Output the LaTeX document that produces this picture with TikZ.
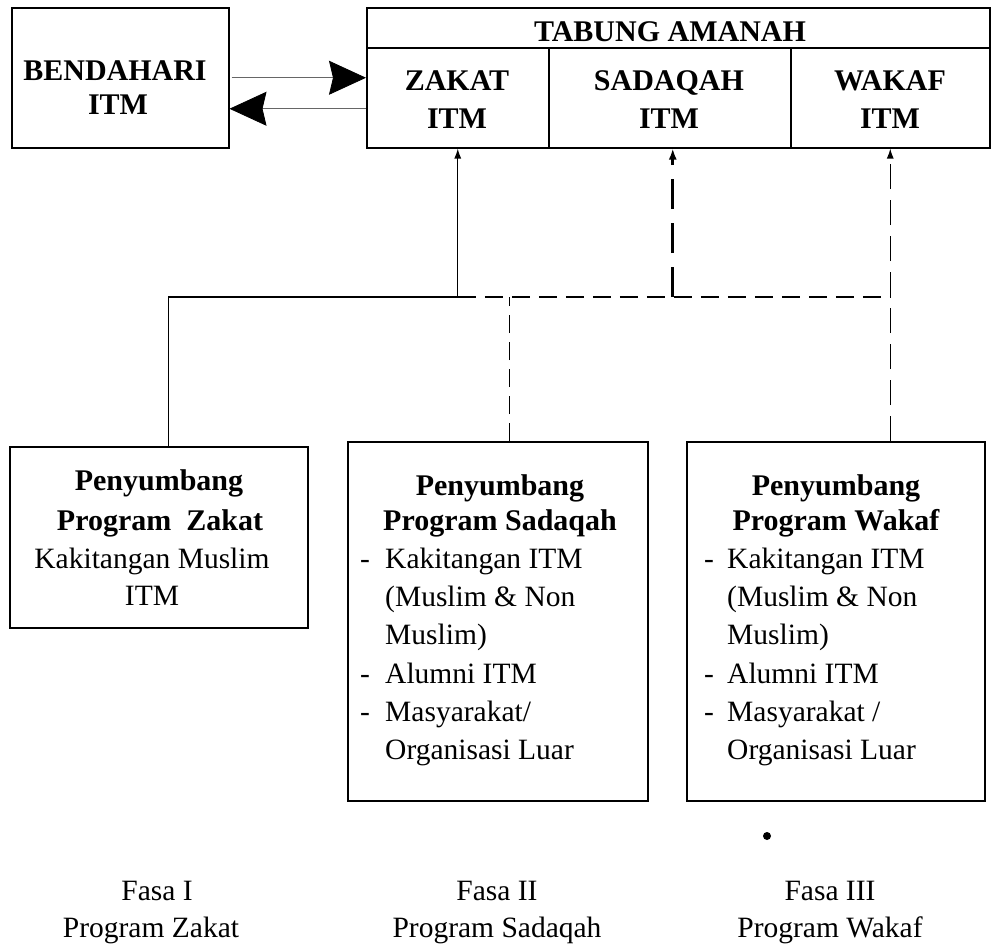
\documentclass[tikz,border=0pt]{standalone}
\usepackage{fontspec}
\setmainfont{Liberation Serif}
\usetikzlibrary{arrows.meta}
\begin{document}
\begin{tikzpicture}[x=1pt,y=-1pt,
  box/.style={draw,line width=1.5pt,inner sep=0pt,anchor=north west},
  bt/.style={font=\fontsize{30}{36}\selectfont\bfseries,anchor=base,inner sep=0pt},
  rt/.style={font=\fontsize{29.5}{36}\selectfont,anchor=base,inner sep=0pt},
  lt/.style={rt,anchor=base west},
  conn/.style={line width=1.3pt},
  dashc/.style={line width=1.3pt,dash pattern=on 18pt off 9pt},
  dashw/.style={line width=1.3pt,dash pattern=on 25pt off 11pt},
  thickdash/.style={line width=2.6pt,dash pattern=on 30pt off 14pt},
  barrow/.style={line width=0.8pt,draw=black!60,-{Stealth[length=37pt,width=34pt,inset=4pt,color=black]}},
  vtip/.style={-{Latex[length=10pt,width=7pt]}}
]
\useasboundingbox (0,0) rectangle (991,946);

% Bendahari
\node[box,minimum width=217pt,minimum height=140pt] (bend) at (11,7) {};
\node[bt] (bendA) at (115,80) {BENDAHARI};
\node[bt] (bendB) at (118,114) {ITM};

% Tabung Amanah
\node[box,minimum width=623pt,minimum height=40pt] (hdr) at (366,7) {};
\node[box,minimum width=182pt,minimum height=100pt] (zak) at (366,47) {};
\node[box,minimum width=242pt,minimum height=100pt] (sad) at (548,47) {};
\node[box,minimum width=199pt,minimum height=100pt] (wak) at (790,47) {};
\node[bt] (hdrT) at (670,41) {TABUNG AMANAH};
\node[bt] (zakA) at (457,90) {ZAKAT};
\node[bt] (zakB) at (457,128) {ITM};
\node[bt] (sadA) at (669,90) {SADAQAH};
\node[bt] (sadB) at (669,128) {ITM};
\node[bt] (wakA) at (890,90) {WAKAF};
\node[bt] (wakB) at (890,128) {ITM};

% arrows Bendahari <-> Tabung
\draw[barrow] ([xshift=2pt]bend.east) -- (zak.west |- bend.east);
\coordinate (r) at ([yshift=-11pt]zak.west);
\draw[barrow] (r) -- (bend.east |- r);

% contributor boxes
\node[box,minimum width=298pt,minimum height=181pt] (zb) at (9,446) {};
\node[box,minimum width=300pt,minimum height=359pt] (sb) at (347,441) {};
\node[box,minimum width=298pt,minimum height=359pt] (wb) at (686,441) {};

\node[bt] (zb1) at (159,490) {Penyumbang};
\node[bt] (zb2) at (160,530) {Program\ \ Zakat};
\node[rt] (zb3) at (152,568) {Kakitangan Muslim};
\node[rt] (zb4) at (152,605) {ITM};

\node[bt] (sb1) at (500,495) {Penyumbang};
\node[bt] (sb2) at (500,530) {Program Sadaqah};
\node[lt] (sbd1) at (360,568) {-};
\node[lt] (sb3) at (385,568) {Kakitangan ITM};
\node[lt] (sb4) at (385,606) {(Muslim \& Non};
\node[lt] (sb5) at (385,644) {Muslim)};
\node[lt] (sbd2) at (360,683) {-};
\node[lt] (sb6) at (385,683) {Alumni ITM};
\node[lt] (sbd3) at (360,721) {-};
\node[lt] (sb7) at (385,721) {Masyarakat/};
\node[lt] (sb8) at (385,759) {Organisasi Luar};

\node[bt] (wb1) at (836,495) {Penyumbang};
\node[bt] (wb2) at (836,530) {Program Wakaf};
\node[lt] (wbd1) at (704,568) {-};
\node[lt] (wb3) at (727,568) {Kakitangan ITM};
\node[lt] (wb4) at (727,606) {(Muslim \& Non};
\node[lt] (wb5) at (727,644) {Muslim)};
\node[lt] (wbd2) at (704,683) {-};
\node[lt] (wb6) at (727,683) {Alumni ITM};
\node[lt] (wbd3) at (704,721) {-};
\node[lt] (wb7) at (727,721) {Masyarakat /};
\node[lt] (wb8) at (727,759) {Organisasi Luar};

% connectors
\coordinate (bar) at (0,297);
\draw[conn,vtip] ([xshift=10pt]zb.north) |- (zak.south |- bar) -- (zak.south);
\draw[dashc] (zak.south |- bar) -- (wak.south |- bar);
\draw[dashc] ([xshift=12pt]sb.north) -- ([xshift=12pt]sb.north |- bar);
\draw[thickdash,-{Latex[length=11pt,width=8pt]}] ([xshift=3pt]sad.south |- bar) -- ([xshift=3pt]sad.south);
\draw[dashw,vtip] (wak.south |- wb.north) -- (wak.south);

% dot
\fill (767,836) circle (4pt);

% phase labels
\node[rt] (f1a) at (157,900) {Fasa I};
\node[rt] (f1b) at (151,937) {Program Zakat};
\node[rt] (f2a) at (497,900) {Fasa II};
\node[rt] (f2b) at (497,937) {Program Sadaqah};
\node[rt] (f3a) at (830,900) {Fasa III};
\node[rt] (f3b) at (830,937) {Program Wakaf};
\end{tikzpicture}
\end{document}
